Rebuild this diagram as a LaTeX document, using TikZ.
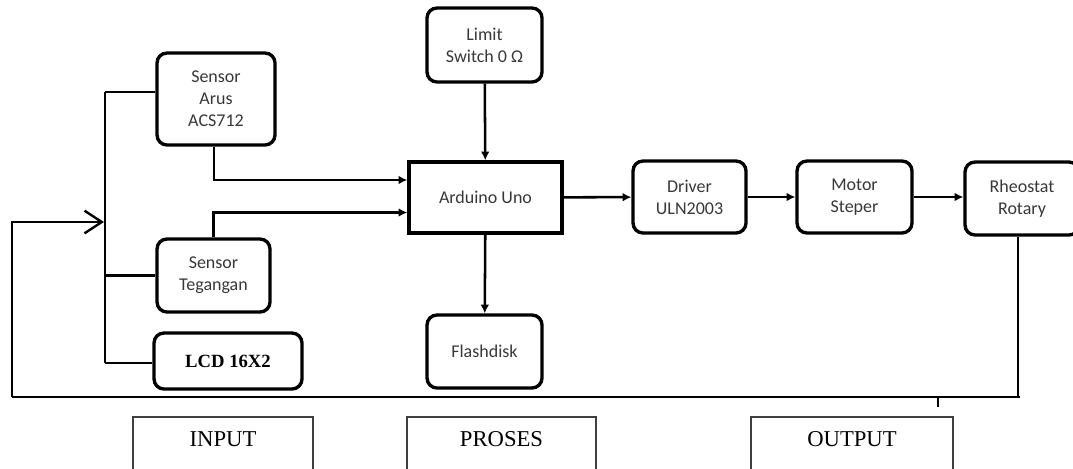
\documentclass[tikz,border=0pt]{standalone}
\usepackage{fontspec}
\setmainfont{Liberation Serif}
\newfontfamily\boxfont{Carlito}
\usetikzlibrary{arrows.meta,calc}
\begin{document}
\begin{tikzpicture}[x=0.75pt,y=-0.75pt,
  rbox/.style={draw,line width=2.5pt,rounded corners=7.5pt,align=center,
    font=\boxfont\fontsize{13.5}{16.5}\selectfont,text=black!78,inner sep=0pt},
  sbox/.style={draw,line width=2.6pt,align=center,
    font=\boxfont\fontsize{13.5}{16.5}\selectfont,text=black!78,inner sep=0pt},
  lbox/.style={draw=black!75,line width=1.2pt,align=center,
    font=\fontsize{17}{20}\selectfont,inner sep=0pt},
  wire/.style={line width=1.9pt},
  arr/.style={wire,-{Latex[length=6.5pt,width=6.5pt]}}]
\clip (0,0) rectangle (1073,468);
\fill[white] (0,0) rectangle (1073,468);
% boxes
\node[rbox,minimum width=88.5pt,minimum height=69pt] (arus) at (216,99) {Sensor\\Arus\\ACS712};
\node[rbox,minimum width=84.75pt,minimum height=54.75pt] (teg) at (213.5,275.5) {Sensor\\Tegangan};
\node[rbox,minimum width=111pt,minimum height=42pt,font=\bfseries\fontsize{14}{16}\selectfont,text=black] (lcd) at (228,361) {LCD 16X2};
\node[rbox,minimum width=86.25pt,minimum height=55.5pt] (limit) at (484.5,45) {Limit\\Switch 0 Ω};
\node[sbox,minimum width=114.75pt,minimum height=53.25pt] (ard) at (485.5,197.5) {Arduino Uno};
\node[rbox,minimum width=86.25pt,minimum height=54.75pt] (flash) at (484.5,351.5) {Flashdisk};
\node[rbox,minimum width=84.75pt,minimum height=54pt] (drv) at (689.5,197) {Driver\\ULN2003};
\node[rbox,minimum width=86.25pt,minimum height=54pt] (mot) at (854.5,197) {Motor\\Steper};
\node[rbox,minimum width=85.5pt,minimum height=54.75pt] (rheo) at (1022,198.5) {Rheostat\\Rotary};
\node[lbox,minimum width=135pt,minimum height=45pt] (inp) at (223,447) {};
\node[lbox,minimum width=141.75pt,minimum height=45pt] (pro) at (501.5,447) {};
\node[lbox,minimum width=151.5pt,minimum height=45pt] (out) at (852,447) {};
\node[font=\fontsize{17}{20}\selectfont] (inpt) at (223,439) {INPUT};
\node[font=\fontsize{17}{20}\selectfont] (prot) at (501.5,439) {PROSES};
\node[font=\fontsize{17}{20}\selectfont] (outt) at (852,439) {OUTPUT};
% connectors
\draw[arr] (limit) -- (ard);
\draw[arr] (ard) -- (flash);
\draw[arr] (ard) -- (drv);
\draw[arr] (drv) -- (mot);
\draw[arr] (mot) -- (rheo.west |- mot.east);
\draw[arr] ($(arus.south)+(-2,0)$) |- ($(ard.west)+(0,-17.5)$);
\draw[arr] (teg.north) |- ($(ard.west)+(0,15)$);
% input bus
\coordinate (bt) at (105,92);
\coordinate (bb) at (105,363);
\draw[wire] (bt) -- (bb);
\draw[wire] (bt) -- (bt -| arus.west);
\draw[wire] (teg.west -| bt) -- (teg.west);
\draw[wire] (bb) -- (bb -| lcd.west);
% feedback loop
\coordinate (corner) at (12,397);
\coordinate (fbin) at (104,222);
\coordinate (fbend) at (1020,397);
\draw[wire] ($(rheo.south)+(-4,0)$) -- ($(rheo.south |- corner)+(-4,0)$);
\draw[wire] (fbend) -- (corner);
\draw[wire,-{Straight Barb[length=13pt,width=17pt,line width=1.8pt]}] (corner) |- (fbin);
\coordinate (tick) at (938,397);
\draw[wire] (tick) -- ++(0,10);
\end{tikzpicture}
\end{document}
